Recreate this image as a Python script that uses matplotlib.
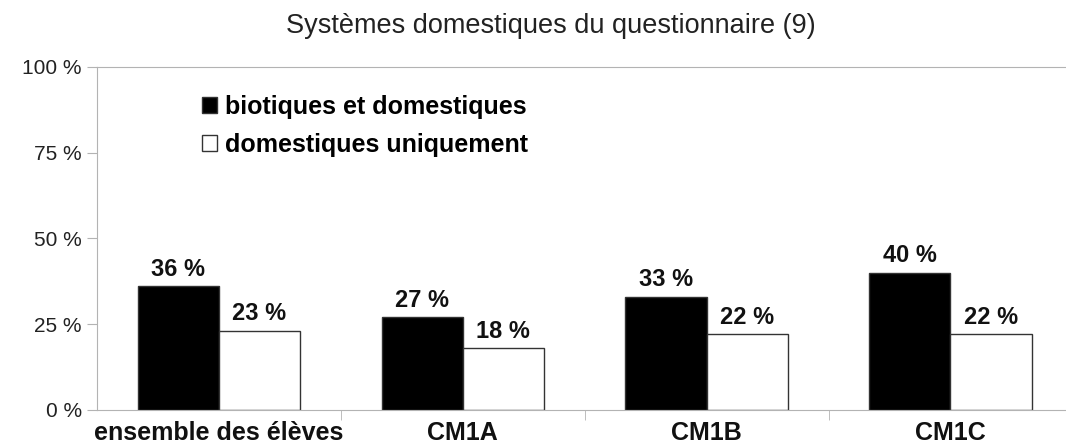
import numpy as np
import matplotlib
matplotlib.use("Agg")
import matplotlib.pyplot as plt
from matplotlib.patches import Patch

plt.rcParams['font.family'] = ['Liberation Sans', 'DejaVu Sans']

categories = ["ensemble des élèves", "CM1A", "CM1B", "CM1C"]
biotiques = [36, 27, 33, 40]
domestiques = [23, 18, 22, 22]
series_names = ["biotiques et domestiques", "domestiques uniquement"]
title = "Systèmes domestiques du questionnaire (9)"

grey = "#b3b3b3"
edge = "#333333"

fig = plt.figure(figsize=(10.66, 4.48), dpi=100)
# axes run off the right edge of the picture, as in the original export
ax = fig.add_axes([0.091, 0.085, 0.915, 0.7656])

x = np.arange(len(categories))
w = 0.333
b1 = ax.bar(x - w / 2, biotiques, w, color="black", edgecolor=edge, linewidth=1)
b2 = ax.bar(x + w / 2, domestiques, w, color="white", edgecolor=edge, linewidth=1)

for bars, vals in ((b1, biotiques), (b2, domestiques)):
    for r, v in zip(bars, vals):
        ax.annotate(f"{v} %", (r.get_x() + r.get_width() / 2, v),
                    xytext=(0, 4), textcoords="offset points",
                    ha="center", va="bottom", fontsize=17, fontweight="bold",
                    color="#111111")

ax.set_xlim(-0.5, -0.5 + 975 / 244)
ax.set_ylim(0, 100)
ax.set_yticks([0, 25, 50, 75, 100])
ax.set_yticklabels([f"{t} %" for t in [0, 25, 50, 75, 100]], fontsize=15, color="#222222")
ax.set_xticks(x)
ax.set_xticklabels(categories, fontsize=18, fontweight="bold", color="#111111")
ax.set_xticks(np.arange(len(categories)) + 0.5, minor=True)
ax.tick_params(axis="x", which="major", length=0, pad=8)
ax.tick_params(axis="x", which="minor", length=7, color=grey, direction="out")
ax.tick_params(axis="y", length=7, color=grey, pad=4)

for s in ("left", "bottom", "top"):
    ax.spines[s].set_color(grey)
ax.spines["right"].set_visible(False)

handles = [Patch(facecolor="black", edgecolor=edge),
           Patch(facecolor="white", edgecolor=edge)]
ax.legend(handles, series_names, loc="upper left", bbox_to_anchor=(0.085, 0.985),
          frameon=False, prop={"size": 18, "weight": "bold"},
          handlelength=0.6, handleheight=0.6, handletextpad=0.3, labelspacing=0.58)

fig.text(0.517, 0.942, title, ha="center", va="center", fontsize=19.5, color="#222222")

fig.savefig("out.png", dpi=100)
